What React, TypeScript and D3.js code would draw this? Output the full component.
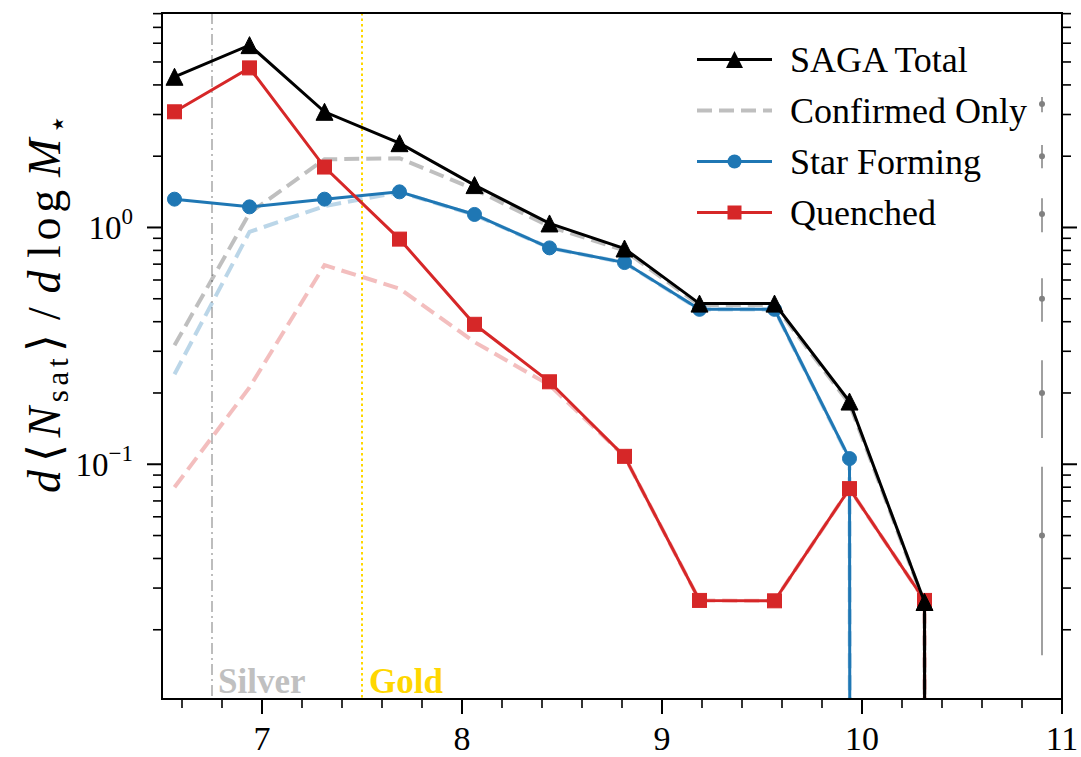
import React from "react";
import * as d3 from "d3";

// Stellar-mass bin centres (log M*)
const binCenters = [6.5625, 6.9375, 7.3125, 7.6875, 8.0625, 8.4375, 8.8125, 9.1875, 9.5625, 9.9375, 10.3125, 10.6875];

// Satellite stellar mass function, all satellites
const sagaTotal = [4.33, 5.89, 3.08, 2.27, 1.51, 1.04, 0.815, 0.477, 0.477, 0.184, 0.0262, 0];
const starForming = [1.317, 1.222, 1.317, 1.414, 1.135, 0.82, 0.711, 0.451, 0.451, 0.1057, 0, 0];
const quenched = [3.08, 4.72, 1.8, 0.893, 0.39, 0.223, 0.108, 0.0266, 0.0265, 0.0789, 0.0266, 0];

// Spectroscopically confirmed satellites only
const confirmedTotal = [0.318, 1.15, 1.94, 1.96, 1.45, 1.01, 0.8, 0.47, 0.47, 0.18, 0.026, 0];
const confirmedSF = [0.24, 0.958, 1.23, 1.41, 1.13, 0.82, 0.71, 0.45, 0.45, 0.105, 0, 0];
const confirmedQ = [0.08, 0.211, 0.693, 0.552, 0.328, 0.216, 0.108, 0.0266, 0.0265, 0.0789, 0.0266, 0];

// Typical uncertainties at several levels
const errX = 10.9;
const errCenter = [3.32, 2.0, 1.14, 0.5, 0.2, 0.05];
const errLow = [3.07, 1.78, 0.955, 0.4, 0.129, 0.0156];
const errHigh = [3.56, 2.23, 1.33, 0.61, 0.275, 0.0975];

// Survey completeness limits
const silverLimit = 6.75;
const goldLimit = 7.5;

const legendLabels = ["SAGA Total", "Confirmed Only", "Star Forming", "Quenched"];

const W = 1081;
const H = 757;
const L = 162, R = 1062, T = 13, B = 699;
const FONT = "'Liberation Serif', 'Times New Roman', serif";

const BLUE = "#1f77b4";
const RED = "#d62728";

export default function App() {
  const x = d3.scaleLinear().domain([6.5, 11]).range([L, R]);
  const y = d3.scaleLog().domain([0.0102, 8.05]).range([B, T]);
  // non-positive values are clipped far below the axes, as on a log axis
  const yy = (v: number) => (v > 0 ? y(v) : y(1e-300));

  const pts = (vals: number[]) => vals.map((v, i) => [binCenters[i], v] as [number, number]);
  const line = d3
    .line<[number, number]>()
    .x((d) => x(d[0]))
    .y((d) => yy(d[1]));

  const xMajor = x.ticks(5);
  const xMinor = x.ticks(20).filter((t) => !xMajor.some((m) => Math.abs(m - t) < 1e-9));
  const yAll = y.ticks();
  const isDecade = (t: number) => Math.abs(Math.log10(t) - Math.round(Math.log10(t))) < 1e-9;
  const yMajor = yAll.filter(isDecade);
  const yMinor = yAll.filter((t) => !isDecade(t));

  const tri = (s: number) => `M0,${-s / 2}L${-s / 2},${s / 2}L${s / 2},${s / 2}Z`;

  const markers = (vals: number[], kind: string, color: string) =>
    pts(vals)
      .filter((d) => d[1] > 0)
      .map((d, i) => {
        const cx = x(d[0]);
        const cy = y(d[1]);
        if (kind === "tri")
          return <path key={i} d={tri(17)} transform={`translate(${cx},${cy})`} fill={color} stroke={color} strokeWidth={1} />;
        if (kind === "sq")
          return <rect key={i} x={cx - 7} y={cy - 7} width={14} height={14} fill={color} stroke={color} strokeWidth={1} />;
        return <circle key={i} cx={cx} cy={cy} r={7} fill={color} stroke={color} strokeWidth={1} />;
      });

  const legendRowY = [59.5, 110.5, 161.5, 212.5];
  const legX0 = 697, legX1 = 772, legText = 790;

  const expLabel = (t: number) => {
    const e = Math.round(Math.log10(t));
    return e < 0 ? "\u2212" + Math.abs(e) : String(e);
  };

  return (
    <svg
      width={W}
      height={H}
      viewBox={`0 0 ${W} ${H}`}
      style={{ position: "absolute", left: 0, top: 0, background: "#fff" }}
      fontFamily={FONT}
    >
      <defs>
        <clipPath id="plotArea">
          <rect x={L} y={T} width={R - L} height={B - T} />
        </clipPath>
      </defs>

      <g clipPath="url(#plotArea)">
        {/* completeness limits */}
        <line x1={x(silverLimit)} x2={x(silverLimit)} y1={T} y2={B} stroke="#bdbdbd" strokeWidth={2} strokeDasharray="11 4 2 4" />
        <line x1={x(goldLimit)} x2={x(goldLimit)} y1={T} y2={B} stroke="#ffd700" strokeWidth={2} strokeDasharray="2.5 3" />

        {/* confirmed-only curves */}
        <path d={line(pts(confirmedTotal)) || ""} fill="none" stroke="#000" strokeOpacity={0.25} strokeWidth={4} strokeDasharray="15 7" />
        <path d={line(pts(confirmedSF)) || ""} fill="none" stroke={BLUE} strokeOpacity={0.3} strokeWidth={4} strokeDasharray="15 7" />
        <path d={line(pts(confirmedQ)) || ""} fill="none" stroke={RED} strokeOpacity={0.3} strokeWidth={4} strokeDasharray="15 7" />

        {/* representative error bars */}
        {errCenter.map((c, i) => (
          <g key={i}>
            <line x1={x(errX)} x2={x(errX)} y1={y(errLow[i])} y2={y(errHigh[i])} stroke="#808080" strokeOpacity={0.75} strokeWidth={2} />
            <circle cx={x(errX)} cy={y(c)} r={3} fill="#808080" />
          </g>
        ))}

        {/* main curves */}
        <path d={line(pts(starForming)) || ""} fill="none" stroke={BLUE} strokeWidth={3} />
        {markers(starForming, "circle", BLUE)}
        <path d={line(pts(quenched)) || ""} fill="none" stroke={RED} strokeWidth={3} />
        {markers(quenched, "sq", RED)}
        <path d={line(pts(sagaTotal)) || ""} fill="none" stroke="#000" strokeWidth={3} />
        {markers(sagaTotal, "tri", "#000")}
      </g>

      {/* limit labels */}
      <text x={x(silverLimit) + 6} y={693} fontSize={35} fontWeight="bold" fill="#c0c0c0">Silver</text>
      <text x={x(goldLimit) + 7} y={693} fontSize={35} fontWeight="bold" fill="#ffd700">Gold</text>

      {/* axes frame */}
      <rect x={L} y={T} width={R - L} height={B - T} fill="none" stroke="#000" strokeWidth={2} />

      {/* x ticks */}
      {xMajor.map((t) => (
        <g key={"xM" + t}>
          <line x1={x(t)} x2={x(t)} y1={B} y2={B + 15} stroke="#000" strokeWidth={2} />
          <text x={x(t)} y={750} textAnchor="middle" fontSize={34}>{t}</text>
        </g>
      ))}
      {xMinor.map((t) => (
        <line key={"xm" + t} x1={x(t)} x2={x(t)} y1={B} y2={B + 9} stroke="#000" strokeWidth={1.6} />
      ))}

      {/* y ticks, left and right */}
      {yMajor.map((t) => (
        <g key={"yM" + t}>
          <line x1={L - 15} x2={L} y1={y(t)} y2={y(t)} stroke="#000" strokeWidth={2} />
          <line x1={R} x2={R + 15} y1={y(t)} y2={y(t)} stroke="#000" strokeWidth={2} />
          <text x={133} y={y(t) + 12} textAnchor="end" fontSize={33}>
            10<tspan dy={-15} fontSize={23}>{expLabel(t)}</tspan>
          </text>
        </g>
      ))}
      {yMinor.map((t) => (
        <g key={"ym" + t}>
          <line x1={L - 9} x2={L} y1={y(t)} y2={y(t)} stroke="#000" strokeWidth={1.6} />
          <line x1={R} x2={R + 9} y1={y(t)} y2={y(t)} stroke="#000" strokeWidth={1.6} />
        </g>
      ))}

      {/* y axis label */}
      <text transform="translate(60,304) rotate(-90)" textAnchor="middle" fontSize={46} textLength={378} lengthAdjust="spacing">
        <tspan fontStyle="italic">d</tspan>
        <tspan dx={3}>{"\u27E8"}</tspan>
        <tspan dx={2} fontStyle="italic">N</tspan>
        <tspan fontSize={31} dy={8}>sat</tspan>
        <tspan dy={-8} dx={2}>{"\u27E9"}</tspan>
        <tspan dx={9}>/</tspan>
        <tspan dx={9} fontStyle="italic">d</tspan>
        <tspan dx={8}>log</tspan>
        <tspan dx={8} fontStyle="italic">M</tspan>
        <tspan fontSize={31} dy={8}>{"\u22C6"}</tspan>
      </text>

      {/* legend */}
      <g>
        <line x1={legX0} x2={legX1} y1={legendRowY[0]} y2={legendRowY[0]} stroke="#000" strokeWidth={3} />
        <path d={tri(17)} transform={`translate(${(legX0 + legX1) / 2},${legendRowY[0]})`} fill="#000" />
        <line x1={legX0} x2={legX1} y1={legendRowY[1]} y2={legendRowY[1]} stroke="#000" strokeOpacity={0.25} strokeWidth={4} strokeDasharray="15 7" />
        <line x1={legX0} x2={legX1} y1={legendRowY[2]} y2={legendRowY[2]} stroke={BLUE} strokeWidth={3} />
        <circle cx={(legX0 + legX1) / 2} cy={legendRowY[2]} r={7} fill={BLUE} />
        <line x1={legX0} x2={legX1} y1={legendRowY[3]} y2={legendRowY[3]} stroke={RED} strokeWidth={3} />
        <rect x={(legX0 + legX1) / 2 - 7} y={legendRowY[3] - 7} width={14} height={14} fill={RED} />
        {legendLabels.map((lab, i) => (
          <text key={lab} x={legText} y={legendRowY[i] + 12} fontSize={36}>{lab}</text>
        ))}
      </g>
    </svg>
  );
}
